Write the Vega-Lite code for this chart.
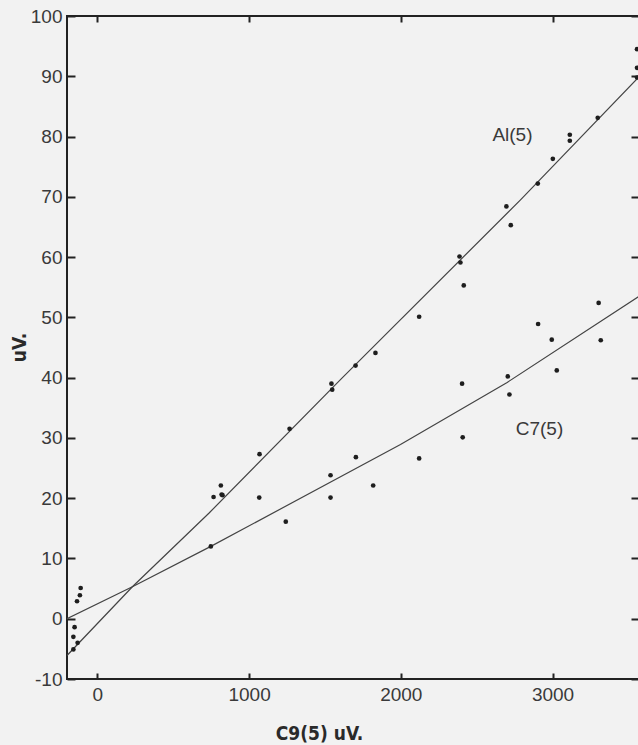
{
  "$schema": "https://vega.github.io/schema/vega-lite/v6.json",
  "width": 572,
  "height": 663,
  "autosize": "none",
  "padding": {"left": 67, "top": 16, "right": 0, "bottom": 66},
  "background": "#f2f2f2",
  "config": {
    "view": {"stroke": "#222222", "strokeWidth": 2},
    "axis": {
      "domain": false,
      "grid": false,
      "tickColor": "#222222",
      "tickWidth": 2,
      "labelFont": "Liberation Sans",
      "labelFontSize": 19,
      "labelColor": "#3a3a3a",
      "labelFlush": false,
      "titleColor": "#2a2a2a"
    }
  },
  "datasets": {
    "points": [
      {"series": "Al(5)", "x": -158, "y": -5.1},
      {"series": "Al(5)", "x": -130, "y": -4.0},
      {"series": "Al(5)", "x": -158, "y": -3.0},
      {"series": "C7(5)", "x": -150, "y": -1.4},
      {"series": "C7(5)", "x": -134, "y": 2.9},
      {"series": "C7(5)", "x": -115, "y": 3.9},
      {"series": "C7(5)", "x": -110, "y": 5.1},
      {"series": "C7(5)", "x": 748, "y": 12.0},
      {"series": "Al(5)", "x": 766, "y": 20.2},
      {"series": "Al(5)", "x": 814, "y": 22.1},
      {"series": "Al(5)", "x": 819, "y": 20.6},
      {"series": "Al(5)", "x": 825, "y": 20.5},
      {"series": "Al(5)", "x": 1069, "y": 27.3},
      {"series": "C7(5)", "x": 1067, "y": 20.1},
      {"series": "C7(5)", "x": 1242, "y": 16.1},
      {"series": "Al(5)", "x": 1267, "y": 31.5},
      {"series": "Al(5)", "x": 1543, "y": 39.0},
      {"series": "Al(5)", "x": 1548, "y": 38.0},
      {"series": "C7(5)", "x": 1537, "y": 23.8},
      {"series": "C7(5)", "x": 1537, "y": 20.1},
      {"series": "Al(5)", "x": 1702, "y": 42.0},
      {"series": "C7(5)", "x": 1704, "y": 26.8},
      {"series": "C7(5)", "x": 1818, "y": 22.1},
      {"series": "Al(5)", "x": 1833, "y": 44.1},
      {"series": "Al(5)", "x": 2121, "y": 50.1},
      {"series": "C7(5)", "x": 2121, "y": 26.6},
      {"series": "Al(5)", "x": 2387, "y": 60.1},
      {"series": "Al(5)", "x": 2393, "y": 59.1},
      {"series": "Al(5)", "x": 2415, "y": 55.3},
      {"series": "C7(5)", "x": 2404, "y": 39.0},
      {"series": "C7(5)", "x": 2408, "y": 30.1},
      {"series": "Al(5)", "x": 2696, "y": 68.4},
      {"series": "Al(5)", "x": 2725, "y": 65.3},
      {"series": "C7(5)", "x": 2705, "y": 40.2},
      {"series": "C7(5)", "x": 2716, "y": 37.2},
      {"series": "Al(5)", "x": 2903, "y": 72.2},
      {"series": "C7(5)", "x": 2905, "y": 48.9},
      {"series": "C7(5)", "x": 2995, "y": 46.3},
      {"series": "C7(5)", "x": 3028, "y": 41.2},
      {"series": "Al(5)", "x": 3002, "y": 76.3},
      {"series": "Al(5)", "x": 3114, "y": 80.3},
      {"series": "Al(5)", "x": 3114, "y": 79.3},
      {"series": "Al(5)", "x": 3298, "y": 83.1},
      {"series": "C7(5)", "x": 3304, "y": 52.4},
      {"series": "C7(5)", "x": 3318, "y": 46.2},
      {"series": "Al(5)", "x": 3557, "y": 94.5},
      {"series": "Al(5)", "x": 3557, "y": 91.4},
      {"series": "Al(5)", "x": 3557, "y": 89.8}
    ],
    "curves": [
      {"series": "Al(5)", "order": 1, "x": -200, "y": -6.1},
      {"series": "Al(5)", "order": 2, "x": 231, "y": 5.3},
      {"series": "Al(5)", "order": 3, "x": 735, "y": 17.5},
      {"series": "Al(5)", "order": 4, "x": 1604, "y": 39.7},
      {"series": "Al(5)", "order": 5, "x": 2789, "y": 69.5},
      {"series": "Al(5)", "order": 6, "x": 3570, "y": 89.9},
      {"series": "C7(5)", "order": 1, "x": -200, "y": 0.0},
      {"series": "C7(5)", "order": 2, "x": 231, "y": 5.3},
      {"series": "C7(5)", "order": 3, "x": 748, "y": 12.0},
      {"series": "C7(5)", "order": 4, "x": 1998, "y": 28.9},
      {"series": "C7(5)", "order": 5, "x": 2701, "y": 39.2},
      {"series": "C7(5)", "order": 6, "x": 3570, "y": 53.5}
    ],
    "labels": [
      {"label": "Al(5)", "x": 2736, "y": 80.3},
      {"label": "C7(5)", "x": 2914, "y": 31.5}
    ]
  },
  "layer": [
    {
      "data": {"name": "curves"},
      "mark": {"type": "line", "color": "#444444", "strokeWidth": 1.2, "clip": true},
      "encoding": {
        "x": {
          "field": "x", "type": "quantitative",
          "scale": {"domain": [-200, 3570], "nice": false, "zero": false},
          "axis": {
            "orient": "bottom",
            "values": [0, 1000, 2000, 3000],
            "labelExpr": "'' + datum.value",
            "tickSize": -6,
            "labelPadding": 12,
            "title": "C9(5) uV.",
            "titleFont": "DejaVu Sans Condensed",
            "titleFontWeight": "bold",
            "titleFontSize": 19,
            "titleX": 252,
            "titleY": 54,
            "titleAlign": "center",
            "titleBaseline": "middle"
          }
        },
        "y": {
          "field": "y", "type": "quantitative",
          "scale": {"domain": [-10, 100], "nice": false, "zero": false},
          "axis": {
            "orient": "left",
            "values": [-10, 0, 10, 20, 30, 40, 50, 60, 70, 80, 90, 100],
            "labelExpr": "'' + datum.value",
            "tickSize": -8,
            "labelPadding": 13,
            "title": "uV.",
            "titleFont": "DejaVu Sans Condensed",
            "titleFontWeight": "bold",
            "titleFontSize": 19,
            "titleX": -48,
            "titleY": 331,
            "titleAngle": -90,
            "titleAlign": "center",
            "titleBaseline": "middle"
          }
        },
        "detail": {"field": "series"},
        "order": {"field": "order", "type": "quantitative"}
      }
    },
    {
      "data": {"name": "labels"},
      "mark": {"type": "text", "font": "Liberation Sans", "fontSize": 19, "color": "#3a3a3a", "align": "center", "baseline": "middle"},
      "encoding": {
        "x": {
          "field": "x", "type": "quantitative",
          "axis": {"orient": "top", "labels": false, "title": null, "values": [0, 1000, 2000, 3000], "tickSize": -6}
        },
        "y": {
          "field": "y", "type": "quantitative",
          "axis": {"orient": "right", "labels": false, "title": null, "values": [-10, 0, 10, 20, 30, 40, 50, 60, 70, 80, 90, 100], "tickSize": -8}
        },
        "text": {"field": "label"}
      }
    },
    {
      "data": {"name": "points"},
      "mark": {"type": "point", "filled": true, "shape": "circle", "size": 22, "color": "#1e1e1e", "opacity": 1, "clip": true},
      "encoding": {
        "x": {"field": "x", "type": "quantitative", "axis": null},
        "y": {"field": "y", "type": "quantitative", "axis": null}
      }
    }
  ],
  "resolve": {"axis": {"x": "independent", "y": "independent"}}
}
